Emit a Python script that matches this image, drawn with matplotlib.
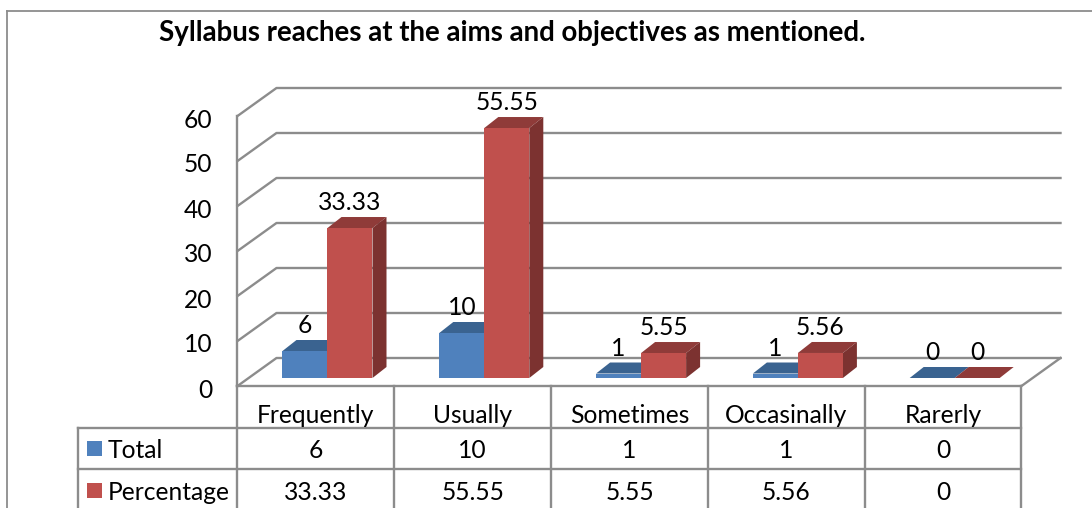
import matplotlib
matplotlib.use("Agg")
import matplotlib.pyplot as plt
from matplotlib.patches import Polygon, Rectangle

categories = ["Frequently", "Usually", "Sometimes", "Occasinally", "Rarerly"]
total = [6, 10, 1, 1, 0]
percentage = [33.33, 55.55, 5.55, 5.56, 0]
total_labels = ["6", "10", "1", "1", "0"]
percentage_labels = ["33.33", "55.55", "5.55", "5.56", "0"]
yticks = [0, 10, 20, 30, 40, 50, 60]
title = "Syllabus reaches at the aims and objectives as mentioned."

W, H = 1092, 508
X0, Y0, CW, PXU = 237.5, 386.0, 156.8, 4.5
plt.rcParams["font.family"] = ["Lato", "DejaVu Sans"]
fig = plt.figure(figsize=(W / 100, H / 100), dpi=100)
ax = fig.add_axes([0, 0, 1, 1])
ax.set_xlim(-X0 / CW, (W - X0) / CW)
ax.set_ylim(-(H - Y0) / PXU, Y0 / PXU)
ax.axis("off")

GREY = "#8c8c8c"
BLUE, BLUE_TOP = "#4f81bd", "#3a6390"
RED, RED_TOP, RED_SIDE = "#c0504d", "#8f3b39", "#7c3230"
DX, DY = 39 / CW, 28 / PXU      # depth of the wall
BX, BY = 14 / CW, 11 / PXU      # depth of the bars
LIFT = 8 / PXU                  # floor lift of the bars
BW = 45 / CW
GAP = 45 / CW
n = len(categories)
FS = 17.7


def py(px):
    """Pixel row below the top of the picture as a value on the y axis."""
    return (Y0 - px) / PXU


def line(xs, ys, lw=1.7, c=GREY):
    ax.plot(xs, ys, color=c, lw=lw, solid_capstyle="projecting", zorder=1)


# outer frame
line([-(X0 - 7) / CW, -(X0 - 7) / CW], [-(H - Y0) / PXU, py(11)], lw=1.3)
line([-(X0 - 7) / CW, (W - X0) / CW], [py(11)] * 2, lw=1.3)

# walls and gridlines
for v in yticks:
    line([0, DX, n + DX], [v, v + DY, v + DY])
    ax.text(-25 / CW, v - 4 / PXU, str(v), ha="right", va="center", fontsize=FS, color="black")
line([0, 0], [0, 60])
line([0, n], [0, 0])
line([n, n + DX], [0, DY])

# table
ROW1, ROW2, ROW3 = py(428), py(469), py(H)
LEFT = -(X0 - 78) / CW
for i in range(n + 1):
    line([i, i], [0, ROW3])
line([LEFT, LEFT], [ROW1, ROW3])
line([LEFT, n], [ROW1, ROW1])
line([LEFT, n], [ROW2, ROW2])

for i, cat in enumerate(categories):
    cx = i + 0.5
    ax.text(cx, py(415.5), cat, ha="center", va="center", fontsize=FS)
    ax.text(cx, py(450.5), total_labels[i], ha="center", va="center", fontsize=FS)
    ax.text(cx, py(492), percentage_labels[i], ha="center", va="center", fontsize=FS)

# legend keys
for key_px, text_px, name, colour in [(448, 450.5, "Total", BLUE), (490, 492, "Percentage", RED)]:
    ax.add_patch(Rectangle((-(X0 - 87) / CW, py(key_px) - 7.5 / PXU), 15 / CW, 15 / PXU, fc=colour, ec="none", zorder=2))
    ax.text(-(X0 - 108) / CW, py(text_px), name, ha="left", va="center", fontsize=FS)


def bar(x, v, front, top, side):
    b = LIFT
    t = LIFT + v
    ax.add_patch(Polygon([(x, t), (x + BX, t + BY), (x + BW + BX, t + BY), (x + BW, t)], fc=top, ec="none", zorder=3))
    ax.add_patch(Polygon([(x + BW, b), (x + BW + BX, b + BY), (x + BW + BX, t + BY), (x + BW, t)], fc=side, ec="none", zorder=3))
    if v > 0:
        ax.add_patch(Rectangle((x, b), BW, v, fc=front, ec="none", zorder=3))


for i in range(n):
    x1 = i + 45 / CW
    x2 = x1 + GAP
    bar(x1, total[i], BLUE, BLUE_TOP, BLUE_TOP)
    bar(x2, percentage[i], RED, RED_TOP, RED_SIDE)
    for x, v, s in [(x1, total[i], total_labels[i]), (x2, percentage[i], percentage_labels[i])]:
        ax.text(x + BW / 2, LIFT + v + BY + 0.6, s, ha="center", va="bottom", fontsize=FS, zorder=4)

ax.text((512 - X0) / CW, py(33), title, ha="center", va="center", fontsize=19.9, fontweight="bold")
fig.savefig("out.png", dpi=100)
